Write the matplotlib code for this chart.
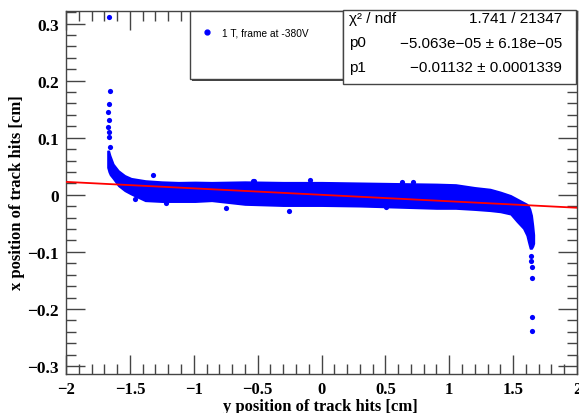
"""Track-hit residual scatter (x vs y position) with straight-line fit, ROOT style."""

import matplotlib
matplotlib.use("Agg")
import matplotlib.pyplot as plt
from matplotlib.patches import Rectangle

# --- data ----------------------------------------------------------------
# dense band of hits: envelope (upper / lower edge) along y position
band_y = [-1.675, -1.665, -1.655, -1.63, -1.59, -1.54, -1.49, -1.38, -1.25,
          -1.12, -0.99, -0.86, -0.6, -0.3, 0.0, 0.3, 0.6, 0.9, 1.05, 1.2,
          1.32, 1.40, 1.48, 1.53, 1.58, 1.606, 1.619, 1.632, 1.645, 1.655,
          1.662]
band_hi = [0.077, 0.077, 0.069, 0.054, 0.0425, 0.034, 0.029, 0.025, 0.023,
           0.022, 0.0225, 0.022, 0.023, 0.022, 0.022, 0.021, 0.020, 0.019,
           0.018, 0.013, 0.010, 0.005, -0.001, -0.007, -0.013, -0.016,
           -0.019, -0.025, -0.036, -0.054, -0.070]
band_lo = [0.048, 0.040, 0.035, 0.028, 0.0157, 0.007, 0.001, -0.0105,
           -0.012, -0.012, -0.012, -0.0105, -0.017, -0.019, -0.019, -0.020,
           -0.022, -0.024, -0.024, -0.026, -0.028, -0.030, -0.034, -0.047,
           -0.059, -0.071, -0.083, -0.094, -0.094, -0.090, -0.085]

# isolated hits outside the band
stray_y = [-1.661, -1.656, -1.661, -1.669, -1.663, -1.669, -1.663, -1.663,
           -1.656, -1.317, -1.46, -1.217, -0.748, -0.536, -0.528, -0.09,
           -0.252, 0.505, 0.628, 0.714, 1.637, 1.637, 1.645, 1.650, 1.650,
           1.650]
stray_x = [0.311, 0.182, 0.159, 0.1446, 0.1317, 0.1194, 0.1107, 0.1009,
           0.0845, 0.034, -0.008, -0.014, -0.023, 0.025, 0.0245, 0.026,
           -0.029, -0.0215, 0.023, 0.023, -0.1066, -0.1154, -0.1259, -0.1451,
           -0.215, -0.2378]

# pol1 fit drawn over the full axis range
fit_y = [-2.0, 2.0]
fit_x = [0.0226, -0.0227]

legend_label = "1 T, frame at -380V"
stats_rows = [("χ² / ndf", "1.741 / 21347"),
              ("p0", "−5.063e−05 ± 6.18e−05"),
              ("p1", "−0.01132 ± 0.0001339")]

W, H = 579, 414
SERIF = "Liberation Serif"
SANS = "Liberation Sans"
FRAME = "#444444"

fig = plt.figure(figsize=(W / 100, H / 100), dpi=100)
ax = fig.add_axes([66 / W, 39 / H, 511 / W, 363 / H])

ax.fill_between(band_y, band_lo, band_hi, color="blue", lw=1.2,
                edgecolor="blue", zorder=2)
ax.scatter(stray_y, stray_x, s=14, color="blue", lw=0, zorder=3)
ax.plot(fit_y, fit_x, color="red", lw=1.3, zorder=4)

ax.set_xlim(-2, 2)
ax.set_ylim(-0.314, 0.322)
ax.set_xticks([-2, -1.5, -1, -0.5, 0, 0.5, 1, 1.5, 2])
ax.set_xticklabels(["−2", "−1.5", "−1", "−0.5", "0", "0.5", "1", "1.5", "2"])
ax.set_yticks([-0.3, -0.2, -0.1, 0, 0.1, 0.2, 0.3])
ax.set_yticklabels(["−0.3", "−0.2", "−0.1", "0", "0.1", "0.2", "0.3"])
ax.set_xticks([v / 10 for v in range(-20, 21)], minor=True)
ax.set_yticks([v / 100 for v in range(-30, 33, 2)], minor=True)
ax.tick_params(which="both", direction="in", top=True, right=True,
               color=FRAME, width=1)
ax.tick_params(which="major", length=14)
ax.tick_params(which="minor", length=7)
ax.tick_params(axis="x", pad=5)
ax.tick_params(axis="y", pad=5)
for lab in ax.get_xticklabels():
    lab.set_fontfamily(SERIF)
    lab.set_fontweight("bold")
    lab.set_fontsize(12)
for lab in ax.get_yticklabels():
    lab.set_fontfamily(SERIF)
    lab.set_fontweight("bold")
    lab.set_fontsize(12.5)
for sp in ax.spines.values():
    sp.set_color(FRAME)
    sp.set_linewidth(1)

fig.text(320 / W, 1 - 411 / H, "y position of track hits [cm]",
         family=SERIF, weight="bold", fontsize=12, ha="center",
         va="baseline")
fig.text(17 / W, 1 - 193 / H, "x position of track hits [cm]",
         family=SERIF, weight="bold", fontsize=12, ha="center", va="center",
         rotation=90)

# legend box (with ROOT-like shadow)
lx0, ly0, lx1, ly1 = 190, 12, 343, 80
fig.add_artist(Rectangle(((lx0 + 2) / W, 1 - (ly1 + 2) / H),
                         (lx1 - lx0) / W, (ly1 - ly0) / H,
                         transform=fig.transFigure, facecolor=FRAME,
                         edgecolor="none", zorder=5))
fig.add_artist(Rectangle((lx0 / W, 1 - ly1 / H), (lx1 - lx0) / W,
                         (ly1 - ly0) / H, transform=fig.transFigure,
                         facecolor="white", edgecolor=FRAME, lw=1, zorder=6))
fig.add_artist(plt.Line2D([207 / W], [1 - 33 / H], marker="o", ms=3.5,
                          color="blue", transform=fig.transFigure, zorder=7))
fig.text(222 / W, 1 - 33 / H, legend_label, family=SANS, fontsize=7.3,
         ha="left", va="center", zorder=7)

# stats box
sx0, sy0, sx1, sy1 = 343, 11, 576, 85
fig.add_artist(Rectangle((sx0 / W, 1 - sy1 / H), (sx1 - sx0) / W,
                         (sy1 - sy0) / H, transform=fig.transFigure,
                         facecolor="white", edgecolor=FRAME, lw=1, zorder=6))
for i, (name, val) in enumerate(stats_rows):
    yy = 1 - (19 + 24.5 * i) / H
    fig.text(349 / W, yy, name, family=SANS, fontsize=11, ha="left",
             va="center", zorder=7)
    fig.text(562 / W, yy, val, family=SANS, fontsize=11, ha="right",
             va="center", zorder=7)

fig.savefig("out.png", dpi=100)
